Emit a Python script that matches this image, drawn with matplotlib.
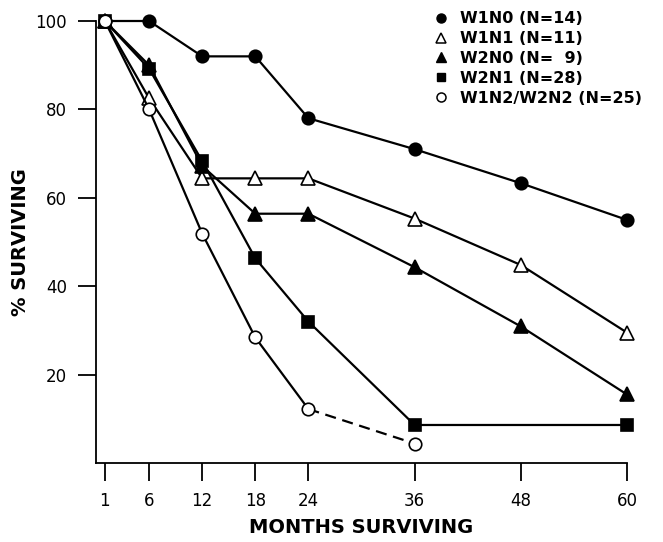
import numpy as np
import matplotlib.pyplot as plt
from matplotlib.lines import Line2D

plt.rcParams['font.family'] = ['Liberation Sans', 'DejaVu Sans']

# meses de seguimento (eixo x)
meses = [1, 6, 12, 18, 24, 36, 48, 60]

# % sobrevivendo por grupo (None = sem ponto)
w1n0 = [100, 100, 92, 92, 78, 71, 63.3, 55]
w1n1 = [100, 82.5, 64.4, 64.4, 64.4, 55.3, 44.8, 29.5]
w2n0 = [100, 90, 67.2, 56.4, 56.4, 44.3, 30.9, 15.5]
w2n1 = [100, 89.2, 68.3, 46.3, 32, 8.6, None, 8.6]
w1n2_w2n2 = [100, 80, 51.9, 28.4, 12.2, 4.4, None, None]

rotulos = ['W1N0 (N=14)', 'W1N1 (N=11)', 'W2N0 (N=  9)', 'W2N1 (N=28)', 'W1N2/W2N2 (N=25)']

fig = plt.figure(figsize=(6.63, 5.42), dpi=100)
ax = fig.add_axes([96/663, 79/542, 531/663, 442/542])


def pontos(ys):
    xs = [m for m, v in zip(meses, ys) if v is not None]
    vs = [v for v in ys if v is not None]
    return xs, vs


lw = 1.6
estilos = [
    (w1n0, dict(marker='o', markersize=9, markerfacecolor='black')),
    (w1n1, dict(marker='^', markersize=9.5, markerfacecolor='white')),
    (w2n0, dict(marker='^', markersize=9.5, markerfacecolor='black')),
    (w2n1, dict(marker='s', markersize=8, markerfacecolor='black')),
]
for ys, kw in estilos:
    xs, vs = pontos(ys)
    ax.plot(xs, vs, color='black', lw=lw, markeredgecolor='black',
            markeredgewidth=1.2, clip_on=False, zorder=3, **kw)

# ultimo grupo: solido ate 24 meses, tracejado ate 36
xs, vs = pontos(w1n2_w2n2)
ax.plot(xs[4:], vs[4:], color='black', lw=lw, ls=(0, (5, 3)), zorder=2)
ax.plot(xs[:5], vs[:5], color='black', lw=lw, zorder=3)
ax.plot(xs, vs, ls='none', marker='o', markersize=9, markerfacecolor='white',
        markeredgecolor='black', markeredgewidth=1.2, clip_on=False, zorder=4)

ax.set_xlim(0, 60)
ax.set_ylim(0, 100)
ax.set_xticks(meses)
ax.set_xticklabels([str(m) for m in meses])
ax.set_yticks([20, 40, 60, 80, 100])
ax.spines['top'].set_visible(False)
ax.spines['right'].set_visible(False)
ax.spines['left'].set_linewidth(1.3)
ax.spines['bottom'].set_linewidth(1.3)
ax.tick_params(axis='both', direction='out', length=13, width=1.3)
ax.tick_params(axis='x', pad=8)
ax.tick_params(axis='y', pad=8)
for t in ax.get_xticklabels() + ax.get_yticklabels():
    t.set_family(['DejaVu Sans'])
    t.set_fontsize(12)

ax.set_xlabel('MONTHS SURVIVING', fontsize=14, fontweight='bold', family=['DejaVu Sans'])
ax.set_ylabel('% SURVIVING', fontsize=14, fontweight='bold', family=['DejaVu Sans'])
ax.xaxis.set_label_coords(0.5, -0.124)
ax.yaxis.set_label_coords(-0.125, 0.5)

handles = [
    Line2D([], [], ls='none', marker='o', markersize=6.5, mfc='black', mec='black'),
    Line2D([], [], ls='none', marker='^', markersize=7, mfc='white', mec='black', mew=1.1),
    Line2D([], [], ls='none', marker='^', markersize=7, mfc='black', mec='black'),
    Line2D([], [], ls='none', marker='s', markersize=6, mfc='black', mec='black'),
    Line2D([], [], ls='none', marker='o', markersize=6.5, mfc='white', mec='black', mew=1.1),
]
ax.legend(handles, rotulos, loc='upper left', bbox_to_anchor=(428/663, 1 - 5/542),
          bbox_transform=fig.transFigure, frameon=False, handlelength=0.8,
          handletextpad=0.8, labelspacing=0.3, borderaxespad=0,
          prop={'weight': 'bold', 'size': 11.5, 'family': ['DejaVu Sans']})

fig.savefig('out.png', dpi=100)
